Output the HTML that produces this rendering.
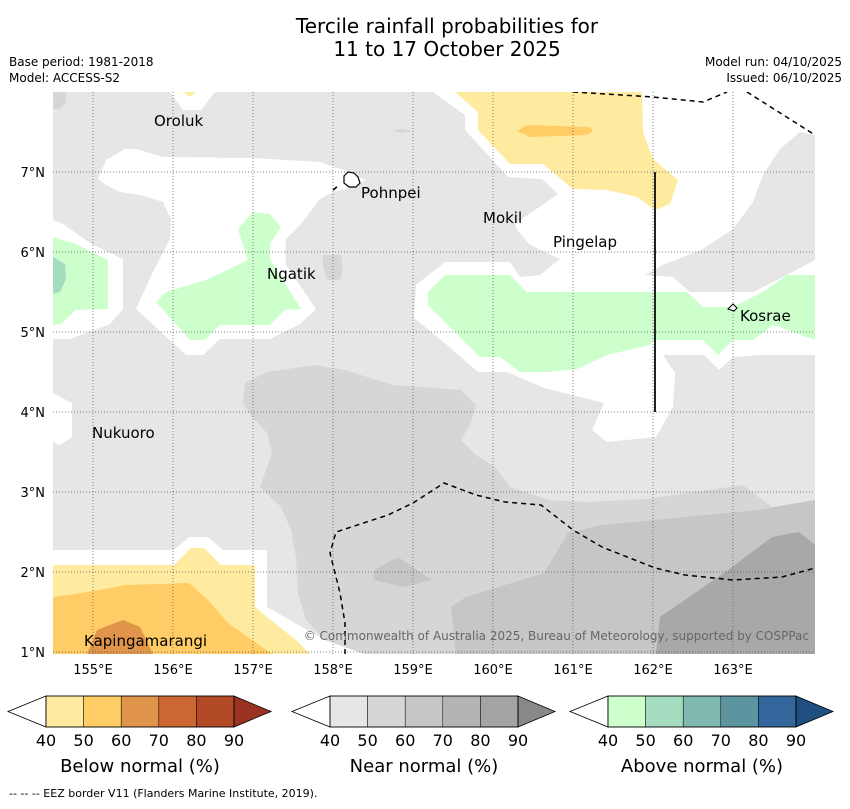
<!DOCTYPE html>
<html><head><meta charset="utf-8"><style>
body{margin:0;background:#fff;font-family:"Liberation Sans","DejaVu Sans",sans-serif;}
svg text{font-family:"DejaVu Sans","Liberation Sans",sans-serif;}
</style></head><body>
<svg id="c" width="850" height="804" viewBox="0 0 850 804" xmlns="http://www.w3.org/2000/svg">
<text x="447" y="33" font-size="20" text-anchor="middle">Tercile rainfall probabilities for</text>
<text x="447" y="56" font-size="20" text-anchor="middle">11 to 17 October 2025</text>
<text x="9" y="66" font-size="12">Base period: 1981-2018</text>
<text x="9" y="82" font-size="12">Model: ACCESS-S2</text>
<text x="842" y="66" font-size="12" text-anchor="end">Model run: 04/10/2025</text>
<text x="842" y="82" font-size="12" text-anchor="end">Issued: 06/10/2025</text>
<defs><clipPath id="mc"><rect x="53" y="92" width="762" height="562"/></clipPath></defs>
<g clip-path="url(#mc)">
<rect x="53" y="92" width="762" height="562" fill="#e6e6e6"/>
<path d="M53,92h13v10l-6,7h-7z" fill="#d6d6d6"/>
<path d="M170,92h45l-14,18h-18z" fill="#fff"/>
<path d="M183,92h13l-6,5z" fill="#ffeb9f"/>
<path d="M98,179L106,160L125,149L136,149L163,157L253,158L320,162L343,170L366,180L346,189L333,192L320,199L310,212L300,225L286,239L285,252L286,265L316,309L300,324L270,339L220,339L203,355L186,355L136,309L153,272L170,239L171,219L163,202L140,195L120,192L106,185Z" fill="#fff"/>
<path d="M53,220L63,224L93,245L123,259L123,309L110,324L70,339L53,339Z" fill="#fff"/>
<path d="M433,92L465,115L465,130L508,177L542,179L558,194L515,224L517,230L530,245L560,259L540,275L520,277L510,262L445,262L416,285L414,318L447,345L478,372L507,372L544,388L604,403L592,430L607,442L656,437L673,407L675,373L663,355L704,355L719,370L733,357L760,355L815,355L815,260L783,277L753,292L690,292L673,277L645,275L663,265L703,249L733,229L753,202L763,175L780,149L800,132L815,135L815,92Z" fill="#fff"/>
<path d="M797,179L815,172L815,190L800,186Z" fill="#e6e6e6"/>
<path d="M455,92L642,92L643,132L653,159L678,180L670,204L655,210L637,197L607,190L573,189L543,164L510,164L478,130L478,112Z" fill="#ffeb9f"/>
<path d="M517,131L527,125L590,127L593,131L587,135L530,137Z" fill="#ffcc66"/>
<path d="M238,229L253,212L270,214L281,227L270,244L270,259L301,309L285,310L270,325L220,325L205,340L190,340L156,302L166,292L206,280L248,260L243,245Z" fill="#ccffcc"/>
<path d="M53,237L76,244L108,260L108,309L76,310L61,324L53,325Z" fill="#ccffcc"/>
<path d="M53,257L65,264L66,279L60,292L53,294Z" fill="#a5dcc0"/>
<path d="M428,292L445,275L510,275L527,292L687,292L703,307L733,307L763,292L787,275L815,275L815,340L773,325L753,340L733,340L718,355L703,340L653,340L650,345L607,355L577,369L547,372L520,372L500,357L480,357L428,305Z" fill="#ccffcc"/>
<path d="M323,255h18l2,12l-3,13h-12l-5,-12z" fill="#d6d6d6"/>
<path d="M393,131q9,-4 18,0q-9,3 -18,0z" fill="#d6d6d6"/>
<path d="M53,393L72,403L72,437L60,445L53,442Z" fill="#fff"/>
<path d="M245,383L243,403L252,417L267,433L272,453L260,487L281,507L291,530L296,557L298,593L306,620L325,640L345,654L815,654L815,500L772,507L743,485L646,499L588,502L549,500L510,487L495,467L476,455L461,440L471,423L476,405L461,390L393,385L345,370L315,365L267,372Z" fill="#d6d6d6"/>
<path d="M743,485L733,460L722,440L725,420L745,405L765,393L790,386L815,385L815,500L772,507Z" fill="#e6e6e6"/>
<path d="M451,607L466,597L544,573L568,533L602,525L685,517L758,510L815,500L815,654L456,654Z" fill="#c6c6c6"/>
<path d="M374,570L398,557L432,580L403,587L374,580Z" fill="#c6c6c6"/>
<path d="M660,617L724,573L772,537L799,532L815,545L815,654L656,654Z" fill="#a8a8a8"/>
<path d="M53,550L174,550L189,537L208,537L223,550L267,550L267,607L325,640L364,654L53,654Z" fill="#fff"/>
<path d="M53,565L174,565L191,548L204,548L221,565L255,565L255,607L267,617L296,640L310,654L53,654Z" fill="#ffeb9f"/>
<path d="M53,597L82,593L126,585L189,583L208,600L228,623L252,640L272,654L53,654Z" fill="#ffcc66"/>
<path d="M87,654L97,630L123,620L140,627L153,654Z" fill="#e0954a"/>
<g id="grid"></g>
<g fill="none" stroke="#000" stroke-width="1.5" stroke-dasharray="5,4">
<polyline points="573,92 653,97 703,102 727,92"/>
<polyline points="747,92 815,135"/>
<polyline points="333,190 338,186"/>
<polyline points="345,654 345,623 340,593 330,553 336,532 388,515 413,503 444,483 476,495 505,502 541,505 573,530 602,547 655,568 685,575 733,580 782,577 815,568"/>
</g>
<line x1="655" y1="172" x2="655" y2="412" stroke="#222" stroke-width="2"/>
<path d="M344,176l4,-4l6,1l4,4l2,6l-4,4l-7,0l-5,-4z" fill="#fff" stroke="#000" stroke-width="1.2"/>
<path d="M728,309l5,-5l4,4l-3,3z" fill="#fff" stroke="#000"/>
<g font-size="15">
<text x="154" y="126">Oroluk</text>
<text x="361" y="198">Pohnpei</text>
<text x="483" y="223">Mokil</text>
<text x="553" y="247">Pingelap</text>
<text x="267" y="279">Ngatik</text>
<text x="740" y="321">Kosrae</text>
<text x="92" y="438">Nukuoro</text>
<text x="84" y="646">Kapingamarangi</text>
</g>
<text x="809" y="640" font-size="12" text-anchor="end" fill="#666">© Commonwealth of Australia 2025, Bureau of Meteorology, supported by COSPPac</text>
</g>
<g id="axes" font-size="13"></g>
<g id="cbars"></g>
<text x="9" y="797" font-size="11">--  --  -- EEZ border V11 (Flanders Marine Institute, 2019).</text>
</svg>
<script>
const lonTicks=[155,156,157,158,159,160,161,162,163];
const latTicks=[1,2,3,4,5,6,7];
const cbTicks=[40,50,60,70,80,90];
const belowColors=["#ffeb9f","#ffcc66","#e0954a","#cc6633","#b34a26"];
const nearColors=["#e6e6e6","#d6d6d6","#c6c6c6","#b4b4b4","#a4a4a4"];
const aboveColors=["#ccffcc","#a5dcc0","#80b9b0","#5c949f","#33669a"];
const ends={below:"#9b3322",near:"#888888",above:"#1f4e80"};
const NS="http://www.w3.org/2000/svg";
function xS(lon){return 53+(lon-154.5)*80;}
function yS(lat){return 92+(8-lat)*80;}
function mk(t,a,p){const e=document.createElementNS(NS,t);for(const k in a)e.setAttribute(k,a[k]);p.appendChild(e);return e;}
const grid=document.getElementById('grid'),axes=document.getElementById('axes');
lonTicks.forEach(l=>{
 const g=mk('line',{x1:xS(l),x2:xS(l),y1:92,y2:654,stroke:'#555','stroke-width':0.7,'stroke-dasharray':'1,2'},grid);
 
 
 const t=mk('text',{x:xS(l),y:674,'text-anchor':'middle'},axes);t.textContent=l+'°E';
 
 
});
latTicks.forEach(l=>{
 const g=mk('line',{x1:53,x2:815,y1:yS(l),y2:yS(l),stroke:'#555','stroke-width':0.7,'stroke-dasharray':'1,2'},grid);
 
 
 const t=mk('text',{x:45,y:yS(l)+5,'text-anchor':'end'},axes);t.textContent=l+'°N';
 
 
});
const cb=document.getElementById('cbars');
function bar(x0,cols,end,title,name){
 const w=37.6,y=696,h=31,W=w*cols.length;
 const g=mk('g',{},cb);
 
 
 mk('polygon',{points:`${x0},${y} ${x0-38},${y+h/2} ${x0},${y+h}`,fill:'#fff',stroke:'#000','stroke-width':0.8},g);
 cols.forEach((c,i)=>{const r=mk('rect',{x:x0+i*w,y:y,width:w,height:h,fill:c,stroke:'#000','stroke-width':0.5},g);
  
  });
 mk('polygon',{points:`${x0+W},${y} ${x0+W+37},${y+h/2} ${x0+W},${y+h}`,fill:end,stroke:'#000','stroke-width':0.8},g);
 mk('rect',{x:x0,y:y,width:W,height:h,fill:'none',stroke:'#000','stroke-width':0.8},g);
 cbTicks.forEach((v,i)=>{const t=mk('text',{x:x0+i*w,y:746,'font-size':16,'text-anchor':'middle'},g);t.textContent=v;
  
  });
 const t=mk('text',{x:x0+W/2,y:772,'font-size':18,'text-anchor':'middle'},g);t.textContent=title;
 
 
}
bar(46,belowColors,ends.below,'Below normal (%)','below-normal-colorbar');
bar(330,nearColors,ends.near,'Near normal (%)','near-normal-colorbar');
bar(608,aboveColors,ends.above,'Above normal (%)','above-normal-colorbar');
</script>
</body></html>
